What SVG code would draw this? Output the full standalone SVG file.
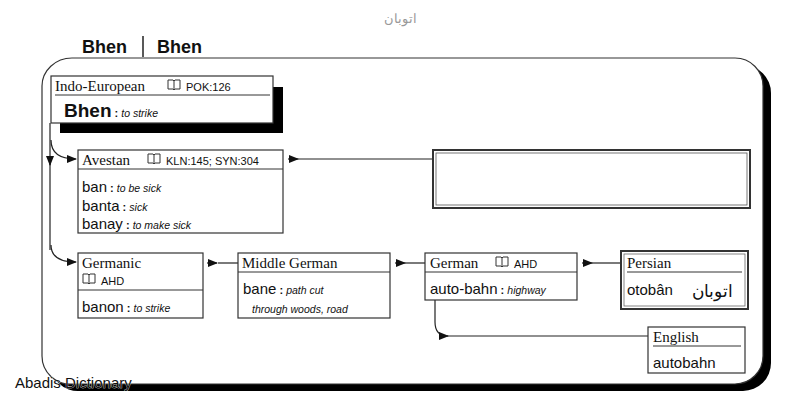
<svg xmlns="http://www.w3.org/2000/svg" width="800" height="400" viewBox="0 0 800 400">
<defs>
<style>
.box{fill:#fff;stroke:#333;stroke-width:1.2}
.ln{fill:none;stroke:#222;stroke-width:1.2}
.sr{font-family:"Liberation Serif",serif;font-size:15px;fill:#111}
.ss{font-family:"Liberation Sans",sans-serif;fill:#111}
.w{font-size:15px}
.g{font-size:10.5px;font-style:italic}
.ref{font-size:11px}
</style>
<marker id="a" markerWidth="10" markerHeight="8" refX="9" refY="4" orient="auto" markerUnits="userSpaceOnUse"><path d="M0,0L10,4L0,8Z" fill="#111"/></marker>
<g id="book"><path d="M0,0h5l1,1l1,-1h5v9h-5l-1,1l-1,-1h-5z M6,1v8" fill="none" stroke="#333" stroke-width="1"/></g>
</defs>
<rect width="800" height="400" fill="#fff"/>
<text x="400" y="23" text-anchor="middle" font-family="'Noto Sans',sans-serif" font-size="13" fill="#999">اتوبان</text>
<text x="82" y="53" class="ss" font-size="18" font-weight="bold">Bhen</text>
<line x1="143" y1="36" x2="143" y2="57" stroke="#222" stroke-width="1.5"/>
<text x="157" y="53" class="ss" font-size="18" font-weight="bold">Bhen</text>
<path d="M72,58 H735 a28,28 0 0 1 28,28 V356 a28,28 0 0 1 -28,28 H72 a28,28 0 0 1 -30,-28 V86 a30,28 0 0 1 30,-28Z" fill="#000" transform="translate(8,7)"/>
<path d="M72,58 H735 a28,28 0 0 1 28,28 V356 a28,28 0 0 1 -28,28 H72 a28,28 0 0 1 -30,-28 V86 a30,28 0 0 1 30,-28Z" fill="#fff" stroke="#333" stroke-width="1.2"/>
<g id="connectors">
<path class="ln" d="M50,123 V250"/>
<path class="ln" d="M50,163 V165" marker-end="url(#a)"/>
<path class="ln" d="M51,140 q0,19 25,19" marker-end="url(#a)"/>
<path class="ln" d="M51,245 q0,17 25,17" marker-end="url(#a)"/>
<path class="ln" d="M433,159 H298"/><path class="ln" d="M288,159 h10" marker-end="url(#a)"/>
<path class="ln" d="M238,263 H218"/><path class="ln" d="M207,263 h10" marker-end="url(#a)"/>
<path class="ln" d="M425,263 H405"/><path class="ln" d="M395,263 h10" marker-end="url(#a)"/>
<path class="ln" d="M621,263 H592"/><path class="ln" d="M582,263 h10" marker-end="url(#a)"/>
<path class="ln" d="M435,300 V322 q0,14 13,14" marker-end="url(#a)"/>
<path class="ln" d="M648,336 H446"/>
</g>
<g id="indo-european">
<rect x="60" y="87" width="223" height="46" fill="#000"/>
<rect class="box" x="51" y="76" width="222" height="47"/>
<line x1="55" y1="95" x2="270" y2="95" stroke="#333"/>
<text x="55" y="91" class="sr">Indo-European</text>
<use href="#book" x="168" y="80"/>
<text x="186" y="91" class="ss ref">POK:126</text>
<text x="64" y="117" class="ss" font-size="19" font-weight="bold">Bhen<tspan font-size="11" font-weight="bold"> : </tspan><tspan class="g" font-weight="normal">to strike</tspan></text>
</g>
<g id="avestan">
<rect class="box" x="78" y="150" width="205" height="83"/>
<line x1="78" y1="169" x2="283" y2="169" stroke="#333"/>
<text x="82" y="165" class="sr">Avestan</text>
<use href="#book" x="148" y="154"/>
<text x="166" y="165" class="ss ref">KLN:145; SYN:304</text>
<text x="82" y="192" class="ss w">ban<tspan font-size="11" font-weight="bold"> : </tspan><tspan class="g">to be sick</tspan></text>
<text x="82" y="211" class="ss w">banta<tspan font-size="11" font-weight="bold"> : </tspan><tspan class="g">sick</tspan></text>
<text x="82" y="229" class="ss w">banay<tspan font-size="11" font-weight="bold"> : </tspan><tspan class="g">to make sick</tspan></text>
</g>
<g id="empty">
<rect x="433" y="150" width="317" height="58" fill="#fff" stroke="#333" stroke-width="2"/>
<rect x="436" y="153" width="311" height="52" fill="none" stroke="#555" stroke-width="0.8"/>
</g>
<g id="germanic">
<rect class="box" x="78" y="253" width="125" height="65"/>
<line x1="78" y1="290" x2="203" y2="290" stroke="#333"/>
<text x="82" y="268" class="sr">Germanic</text>
<use href="#book" x="83" y="274"/>
<text x="101" y="285" class="ss ref">AHD</text>
<text x="82" y="312" class="ss w">banon<tspan font-size="11" font-weight="bold"> : </tspan><tspan class="g">to strike</tspan></text>
</g>
<g id="middle-german">
<rect class="box" x="238" y="253" width="152" height="65"/>
<line x1="238" y1="272" x2="390" y2="272" stroke="#333"/>
<text x="242" y="268" class="sr">Middle German</text>
<text x="243" y="294" class="ss w">bane<tspan font-size="11" font-weight="bold"> : </tspan><tspan class="g">path cut</tspan></text>
<text x="252" y="313" class="ss g">through woods, road</text>
</g>
<g id="german">
<rect class="box" x="425" y="253" width="152" height="47"/>
<line x1="425" y1="272" x2="577" y2="272" stroke="#333"/>
<text x="430" y="268" class="sr">German</text>
<use href="#book" x="496" y="257"/>
<text x="514" y="268" class="ss ref">AHD</text>
<text x="430" y="294" class="ss w">auto-bahn<tspan font-size="11" font-weight="bold"> : </tspan><tspan class="g">highway</tspan></text>
</g>
<g id="persian">
<rect x="621" y="251" width="127" height="58" fill="#fff" stroke="#333" stroke-width="2"/>
<rect x="624" y="254" width="121" height="52" fill="none" stroke="#666" stroke-width="0.8"/>
<line x1="627" y1="272" x2="742" y2="272" stroke="#333"/>
<text x="627" y="268" class="sr">Persian</text>
<text x="627" y="295" class="ss w">otobân</text>
<text x="733" y="297" text-anchor="end" font-family="'Noto Sans',sans-serif" font-size="17" fill="#111">اتوبان</text>
</g>
<g id="english">
<rect class="box" x="648" y="327" width="97" height="46"/>
<line x1="653" y1="346" x2="741" y2="346" stroke="#333"/>
<text x="653" y="342" class="sr">English</text>
<text x="653" y="368" class="ss w">autobahn</text>
</g>
<text x="15" y="388" class="ss" font-size="15" fill="#aaa" stroke="#fff" stroke-width="0.6" paint-order="stroke">Abadis Dictionary</text>
</svg>
